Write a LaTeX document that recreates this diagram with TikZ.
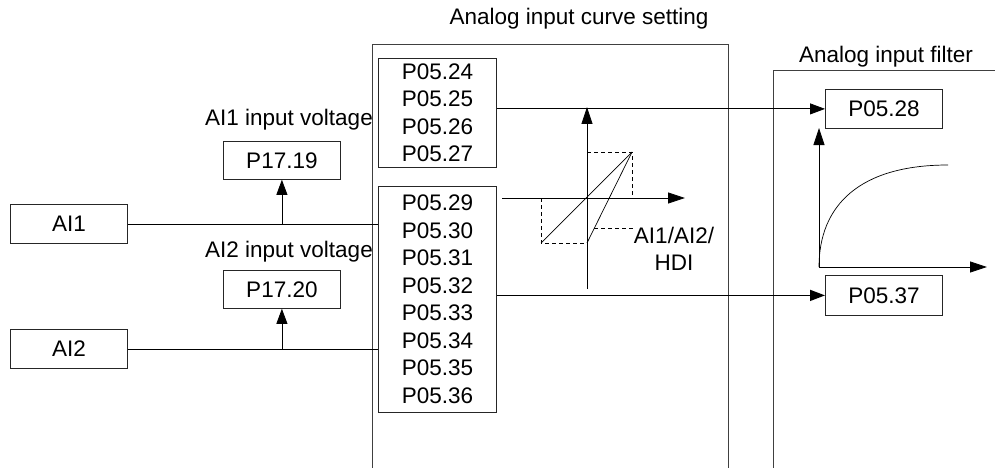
\documentclass[tikz,border=0pt]{standalone}
\usepackage{fontspec}
\setmainfont{Liberation Sans}
\usetikzlibrary{arrows.meta}
\begin{document}
\begin{tikzpicture}[x=1pt,y=-1pt,
  txt/.style={font=\fontsize{22.5}{27.5}\selectfont, inner sep=0pt},
  pbox/.style={txt, draw=black!85, line width=0.8pt, align=center, anchor=north west},
  conn/.style={line width=0.8pt, black},
  tipA/.style={-{Triangle[length=15pt,width=11pt]}},
  tipB/.style={-{Triangle[length=17pt,width=11pt]}},
  dsh/.style={line width=0.7pt, dash pattern=on 4pt off 3pt}]
\useasboundingbox (0,0) rectangle (995,468);
% frames
\coordinate (f1a) at (372,468); \coordinate (f1b) at (372,44);
\coordinate (f1c) at (728,44); \coordinate (f1d) at (728,468);
\draw[line width=0.9pt, black!75] (f1a) -- (f1b) -- (f1c) -- (f1d);
\coordinate (f2a) at (773,468); \coordinate (f2b) at (773,70);
\coordinate (f2c) at (995,70);
\draw[line width=0.9pt, black!75] (f2a) -- (f2b) -- (f2c);
\node[txt, anchor=base] (t1) at (579,25) {Analog input curve setting};
\node[txt, anchor=base] (t2) at (886,63) {Analog input filter};
% boxes
\node[pbox, minimum width=118pt, minimum height=109pt] (g1) at (378,58) {P05.24\\P05.25\\P05.26\\P05.27};
\node[pbox, minimum width=118pt, minimum height=226pt] (g2) at (378,186) {P05.29\\P05.30\\P05.31\\P05.32\\P05.33\\P05.34\\P05.35\\P05.36};
\node[pbox, minimum width=117pt, minimum height=39pt] (ai1) at (10,204) {AI1};
\node[pbox, minimum width=117pt, minimum height=39pt] (ai2) at (10,329) {AI2};
\node[pbox, minimum width=117pt, minimum height=38pt] (p19) at (223,141) {P17.19};
\node[pbox, minimum width=117pt, minimum height=38pt] (p20) at (223,270) {P17.20};
\node[pbox, minimum width=117pt, minimum height=39pt] (p28) at (825,89) {P05.28};
\node[pbox, minimum width=117pt, minimum height=40pt] (p37) at (825,275) {P05.37};
\node[txt, anchor=base east] (l1) at (373,125) {AI1 input voltage};
\node[txt, anchor=base east] (l2) at (373,257) {AI2 input voltage};
% connectors
\draw[conn] (ai1.east) -- (ai1.east -| g2.west);
\draw[conn] (ai2.east) -- (ai2.east -| g2.west);
\draw[conn, tipA] (p19.south |- ai1.east) -- (p19.south);
\draw[conn, tipA] (p20.south |- ai2.east) -- (p20.south);
\draw[conn, tipA] (g1.east |- p28.west) -- (p28.west);
\draw[line width=1.5pt, tipA] (g2.east |- p37.west) -- (p37.west);
% curve setting graph
\coordinate (o) at (587,198);
\draw[conn, tipB] (587,289) -- (587,107);
\draw[conn, tipB] (502,198) -- (685,198);
\coordinate (ur) at (632,152);
\coordinate (ll) at (541,243);
\coordinate (lr) at (587,243);
\draw[dsh] (587,152) -- (ur) -- (632,198);
\draw[dsh] (541,198) -- (ll) -- (lr);
\draw[line width=0.7pt] (ll) -- (ur);
\draw[line width=0.7pt] (lr) -- (ur);
\node[txt, align=center] (lbl) at (674,249) {AI1/AI2/\\HDI};
\coordinate (lead) at (594.4,228);
\draw[dsh] (lead) -- (lead -| lbl.west);
% filter graph
\draw[conn, tipB] (819,267) -- (819,128);
\draw[conn, tipB] (819,267) -- (987,267);
\draw[line width=0.7pt] (819,267) .. controls (819,205) and (860,165) .. (948,165);
\end{tikzpicture}
\end{document}
